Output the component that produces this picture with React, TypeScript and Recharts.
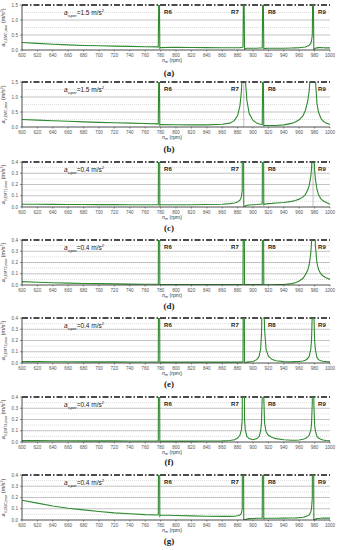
import { LineChart, Line, XAxis, YAxis, ReferenceLine } from 'recharts';

// shared speed grid (rpm), dense around the resonances
const nm = [
  600, 620, 640, 660, 680, 700, 720, 740, 760,
  776, 777, 778, 779, 780,
  800, 820, 840, 860, 870,
  876, 880, 883, 885, 886,
  887, 888, 889, 890, 892,
  895, 900, 905, 908, 910,
  911, 912, 913, 914, 915,
  917, 920, 925, 930, 940,
  950, 955, 960, 965, 968,
  971, 973, 975, 976, 977,
  978, 979, 980, 981, 983,
  985, 988, 991, 995, 1000,
];

const accA = [
  0.25, 0.22, 0.19, 0.17, 0.15, 0.14, 0.13, 0.12, 0.11,
  0.105, 0.1, 3, 0.06, 0.08,
  0.09, 0.085, 0.08, 0.075, 0.075,
  0.075, 0.075, 0.08, 0.085, 0.09,
  0.1, 3, 0.03, 0.05, 0.06,
  0.06, 0.06, 0.06, 0.065, 0.065,
  0.065, 0.07, 3, 0.04, 0.05,
  0.055, 0.06, 0.06, 0.06, 0.06,
  0.065, 0.07, 0.075, 0.09, 0.1,
  0.13, 0.16, 0.22, 0.3, 0.5,
  3, 0.02, 0.04, 0.06, 0.07,
  0.08, 0.08, 0.075, 0.07, 0.07,
];

const accB = [
  0.25, 0.23, 0.21, 0.19, 0.17, 0.155, 0.14, 0.13, 0.115,
  0.105, 0.1, 3, 0.06, 0.08,
  0.075, 0.07, 0.07, 0.09, 0.13,
  0.22, 0.38, 0.7, 1.2, 1.8,
  3, 3, 2.5, 1.6, 0.9,
  0.45, 0.22, 0.13, 0.1, 0.09,
  0.085, 0.08, 3, 0.04, 0.05,
  0.05, 0.05, 0.05, 0.05, 0.07,
  0.12, 0.17, 0.24, 0.38, 0.55,
  0.85, 1.2, 2, 3, 3,
  3, 3, 2.5, 1.6, 0.8,
  0.5, 0.3, 0.2, 0.13, 0.08,
];

const accC = [
  0.025, 0.024, 0.023, 0.022, 0.022, 0.021, 0.021, 0.02, 0.02,
  0.02, 0.02, 2, 0.015, 0.02,
  0.02, 0.02, 0.022, 0.025, 0.03,
  0.035, 0.045, 0.06, 0.09, 0.15,
  2, 0.005, 0.0, 0.01, 0.015,
  0.018, 0.02, 0.022, 0.024, 0.025,
  0.026, 0.027, 2, 0.02, 0.025,
  0.028, 0.03, 0.032, 0.035, 0.04,
  0.05, 0.058, 0.07, 0.09, 0.11,
  0.15, 0.19, 0.27, 0.34, 0.5,
  2, 0.5, 0.33, 0.25, 0.16,
  0.11, 0.075, 0.055, 0.04, 0.025,
];

const accD = [
  0.03, 0.025, 0.02, 0.017, 0.014, 0.012, 0.01, 0.008, 0.007,
  0.006, 0.006, 2, 0.004, 0.005,
  0.005, 0.005, 0.004, 0.004, 0.004,
  0.004, 0.004, 0.004, 0.005, 0.005,
  0.006, 2, 0.003, 0.003, 0.003,
  0.003, 0.003, 0.003, 0.003, 0.003,
  0.003, 0.003, 2, 0.002, 0.002,
  0.002, 0.002, 0.002, 0.003, 0.005,
  0.012, 0.02, 0.035, 0.06, 0.09,
  0.13, 0.18, 0.28, 0.38, 0.6,
  2, 2, 0.6, 0.35, 0.2,
  0.14, 0.1, 0.08, 0.065, 0.05,
];

const accE = [
  0.012, 0.012, 0.011, 0.011, 0.01, 0.01, 0.01, 0.009, 0.009,
  0.009, 0.009, 2, 0.008, 0.008,
  0.008, 0.008, 0.008, 0.008, 0.008,
  0.008, 0.008, 0.008, 0.008, 0.009,
  0.01, 2, 0.006, 0.007, 0.008,
  0.01, 0.014, 0.03, 0.06, 0.13,
  0.25, 0.6, 2, 0.6, 0.3,
  0.12, 0.06, 0.03, 0.02, 0.012,
  0.01, 0.012, 0.014, 0.018, 0.025,
  0.04, 0.06, 0.12, 0.2, 0.45,
  2, 0.45, 0.2, 0.12, 0.05,
  0.03, 0.02, 0.015, 0.012, 0.01,
];

const accF = [
  0.012, 0.012, 0.011, 0.011, 0.01, 0.01, 0.01, 0.009, 0.009,
  0.009, 0.009, 2, 0.008, 0.008,
  0.008, 0.008, 0.009, 0.01, 0.014,
  0.02, 0.035, 0.06, 0.11, 0.2,
  2, 2, 0.2, 0.11, 0.05,
  0.03, 0.02, 0.03, 0.05, 0.1,
  0.17, 0.4, 2, 0.4, 0.17,
  0.09, 0.06, 0.04, 0.03, 0.02,
  0.015, 0.016, 0.018, 0.025, 0.032,
  0.045, 0.06, 0.1, 0.16, 0.35,
  2, 0.35, 0.15, 0.1, 0.05,
  0.035, 0.025, 0.018, 0.014, 0.01,
];

const accG = [
  0.175, 0.15, 0.125, 0.105, 0.09, 0.075, 0.063, 0.055, 0.048,
  0.045, 0.045, 2, 0.035, 0.044,
  0.04, 0.037, 0.034, 0.032, 0.032,
  0.034, 0.038, 0.045, 0.06, 0.1,
  2, 0.0, 0.002, 0.005, 0.008,
  0.012, 0.014, 0.015, 0.016, 0.016,
  0.016, 0.016, 2, 0.012, 0.014,
  0.015, 0.016, 0.016, 0.016, 0.017,
  0.018, 0.019, 0.021, 0.025, 0.03,
  0.037, 0.045, 0.07, 0.1, 0.2,
  2, 0.0, 0.003, 0.008, 0.012,
  0.014, 0.016, 0.017, 0.017, 0.017,
];

const xTicks = [600, 620, 640, 660, 680, 700, 720, 740, 760, 780, 800, 820, 840, 860, 880, 900, 920, 940, 960, 980, 1000];
const yTicksHigh = [0, 0.5, 1.0, 1.5];
const yTicksLow = [0, 0.1, 0.2, 0.3, 0.4];
const minorHigh = [0.25, 0.75, 1.25];
const minorLow = [0.05, 0.15, 0.25, 0.35];

const resonanceNames = ['R6', 'R7', 'R8', 'R9'];
const resonanceSpeeds = [778, 888, 913, 978];

const panels = [
  { id: 'a', values: accA, max: 1.5, sub: 'V,EMC,max', guide: null },
  { id: 'b', values: accB, max: 1.5, sub: 'V,EMC,max', guide: 888 },
  { id: 'c', values: accC, max: 0.4, sub: 'V,EMT1,max', guide: 978 },
  { id: 'd', values: accD, max: 0.4, sub: 'V,EMT2,max', guide: null },
  { id: 'e', values: accE, max: 0.4, sub: 'V,EMT3,max', guide: null },
  { id: 'f', values: accF, max: 0.4, sub: 'V,EMT4,max', guide: null },
  { id: 'g', values: accG, max: 0.4, sub: 'V,OBC,max', guide: null },
];

// plot-area top of each panel and vertical centre of each caption
const plotTops = [5, 82, 162, 240, 318, 397, 475];
const captionYs = [73, 149, 228, 306, 384, 462, 541];

const GREEN = '#2f8a2f';
const FONT = 'Arial, "Liberation Sans", sans-serif';

function YTitle({ viewBox, sub }: any) {
  const cx = (viewBox?.x ?? 0) + 5;
  const cy = (viewBox?.y ?? 0) + (viewBox?.height ?? 0) / 2;
  return (
    <text transform={`translate(${cx},${cy}) rotate(-90)`} textAnchor="middle" fontSize={5.5} fontFamily={FONT} fill="#333">
      <tspan fontStyle="italic">a</tspan>
      <tspan fontSize={3.6} dy={1.5}>{sub}</tspan>
      <tspan dy={-1.5}> (m/s</tspan>
      <tspan fontSize={3.6} dy={-2}>2</tspan>
      <tspan dy={2}>)</tspan>
    </text>
  );
}

function XTitle({ viewBox }: any) {
  const cx = (viewBox?.x ?? 0) + (viewBox?.width ?? 0) / 2 - 4;
  const cy = (viewBox?.y ?? 0) + 12;
  return (
    <text x={cx} y={cy} textAnchor="middle" fontSize={5.3} fontFamily={FONT} fill="#333">
      <tspan fontStyle="italic">n</tspan>
      <tspan fontSize={3.6} dy={1.2}>m</tspan>
      <tspan dy={-1.2}> (rpm)</tspan>
    </text>
  );
}

function Panel({ panel, top }: { panel: (typeof panels)[number]; top: number }) {
  const data = nm.map((x, i) => ({ nm: x, acc: panel.values[i] }));
  const high = panel.max > 1;
  const ticks = high ? yTicksHigh : yTicksLow;
  const minors = high ? minorHigh : minorLow;

  return (
    <div style={{ position: 'absolute', left: 0, top: top - 5 }}>
      <LineChart width={338} height={70} data={data} margin={{ top: 5, right: 8, left: 0, bottom: 0 }}>
        <XAxis
          dataKey="nm"
          type="number"
          domain={[600, 1000]}
          ticks={xTicks}
          interval={0}
          height={20}
          tickSize={1.5}
          tick={{ fontSize: 4.6, fill: '#555', fontFamily: FONT }}
          axisLine={{ stroke: '#222', strokeWidth: 0.8 }}
          tickLine={{ stroke: '#222', strokeWidth: 0.5 }}
          label={{ content: (p: any) => <XTitle {...p} /> }}
        />
        <YAxis
          type="number"
          domain={[0, panel.max]}
          allowDataOverflow
          ticks={ticks}
          width={22}
          tickSize={2}
          tickFormatter={(v: number) => v.toFixed(1)}
          tick={{ fontSize: 4.6, fill: '#555', fontFamily: FONT }}
          axisLine={{ stroke: '#222', strokeWidth: 0.8 }}
          tickLine={{ stroke: '#222', strokeWidth: 0.5 }}
          label={{ content: (p: any) => <YTitle {...p} sub={panel.sub} /> }}
        />
        {minors.map((v) => (
          <ReferenceLine key={`m${v}`} y={v} stroke="#c4c4c4" strokeWidth={0.6} strokeDasharray="1 1" />
        ))}
        {ticks.slice(1, -1).map((v) => (
          <ReferenceLine key={`g${v}`} y={v} stroke="#9a9a9a" strokeWidth={0.6} />
        ))}
        {panel.guide !== null && <ReferenceLine x={panel.guide} stroke="#999" strokeWidth={0.6} />}
        <ReferenceLine y={panel.max} stroke="#111" strokeWidth={1.3} strokeDasharray="6 2 1.5 2" />
        {resonanceSpeeds.map((x, i) => (
          <ReferenceLine
            key={resonanceNames[i]}
            x={x}
            stroke="none"
            label={{
              value: resonanceNames[i],
              position: i === 1 ? 'insideTopRight' : 'insideTopLeft',
              offset: 5,
              fontSize: 6,
              fontWeight: 700,
              fill: '#222',
              fontFamily: FONT,
            }}
          />
        ))}
        <Line
          type="linear"
          dataKey="acc"
          stroke={GREEN}
          strokeWidth={1.1}
          dot={false}
          isAnimationActive={false}
        />
      </LineChart>
      <div
        style={{
          position: 'absolute',
          left: 64,
          top: 9,
          fontSize: 6.5,
          fontFamily: FONT,
          color: '#222',
          whiteSpace: 'nowrap',
          lineHeight: '8px',
        }}
      >
        <i>a</i>
        <span style={{ fontSize: 4.2, position: 'relative', top: 2 }}>v,per</span>
        <span>={panel.max.toFixed(1)} m/s</span>
        <span style={{ fontSize: 4.2, position: 'relative', top: -3 }}>2</span>
      </div>
    </div>
  );
}

export default function App() {
  return (
    <div style={{ position: 'absolute', left: 0, top: 0, width: 338, height: 550, background: '#fff' }}>
      {panels.map((p, i) => (
        <Panel key={p.id} panel={p} top={plotTops[i]} />
      ))}
      {panels.map((p, i) => (
        <div
          key={`cap${p.id}`}
          style={{
            position: 'absolute',
            left: 0,
            width: 338,
            top: captionYs[i] - 5,
            textAlign: 'center',
            fontFamily: '"Liberation Serif", "Times New Roman", serif',
            fontWeight: 700,
            fontSize: 9,
            lineHeight: '10px',
            color: '#222',
          }}
        >
          ({p.id})
        </div>
      ))}
    </div>
  );
}
